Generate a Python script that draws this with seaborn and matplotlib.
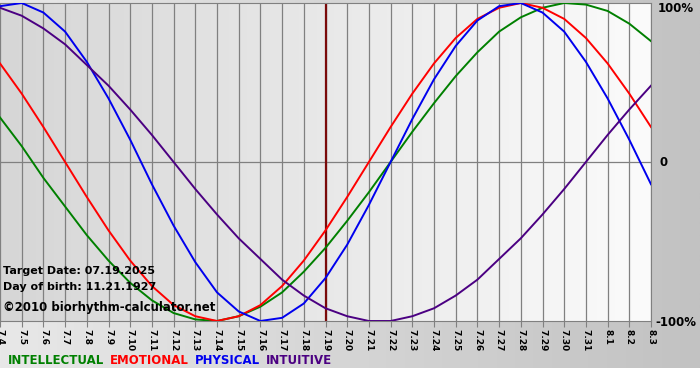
import numpy as np
import pandas as pd
import matplotlib
matplotlib.use('Agg')
from matplotlib import pyplot as plt
from matplotlib.colors import LinearSegmentedColormap
import seaborn as sns

# etiquetas de los dias (7.4 -> 8.3)
dias = ['7.4', '7.5', '7.6', '7.7', '7.8', '7.9', '7.10', '7.11', '7.12', '7.13',
        '7.14', '7.15', '7.16', '7.17', '7.18', '7.19', '7.20', '7.21', '7.22', '7.23',
        '7.24', '7.25', '7.26', '7.27', '7.28', '7.29', '7.30', '7.31', '8.1', '8.2', '8.3']

# valores (fraccion de 100%)
intelectual = [0.28, 0.10, -0.10, -0.28, -0.46, -0.62, -0.76, -0.87, -0.95, -0.99,
               -1.00, -0.97, -0.91, -0.82, -0.69, -0.54, -0.37, -0.19, 0.00, 0.19,
               0.37, 0.54, 0.69, 0.82, 0.91, 0.97, 1.00, 0.99, 0.95, 0.87, 0.76]
emocional = [0.62, 0.43, 0.22, 0.00, -0.22, -0.43, -0.62, -0.78, -0.90, -0.97,
             -1.00, -0.97, -0.90, -0.78, -0.62, -0.43, -0.22, 0.00, 0.22, 0.43,
             0.62, 0.78, 0.90, 0.97, 1.00, 0.97, 0.90, 0.78, 0.62, 0.43, 0.22]
fisico = [0.98, 1.00, 0.94, 0.82, 0.63, 0.40, 0.14, -0.14, -0.40, -0.63,
          -0.82, -0.94, -1.00, -0.98, -0.89, -0.73, -0.52, -0.27, 0.00, 0.27,
          0.52, 0.73, 0.89, 0.98, 1.00, 0.94, 0.82, 0.63, 0.40, 0.14, -0.14]
intuitivo = [0.97, 0.92, 0.84, 0.74, 0.61, 0.48, 0.33, 0.17, 0.00, -0.17,
             -0.33, -0.48, -0.61, -0.74, -0.84, -0.92, -0.97, -1.00, -1.00, -0.97,
             -0.92, -0.84, -0.74, -0.61, -0.48, -0.33, -0.17, 0.00, 0.17, 0.33, 0.48]

series = ['INTELLECTUAL', 'EMOTIONAL', 'PHYSICAL', 'INTUITIVE']
colores = {'INTELLECTUAL': '#008000', 'EMOTIONAL': '#ff0000',
           'PHYSICAL': '#0000ee', 'INTUITIVE': '#4b0082'}
dia_objetivo = '7.19'
etiquetas_y = ['100%', '0', '-100%']

# se arma el DataFrame largo
dia_idx = list(range(len(dias)))
df = pd.concat([
    pd.DataFrame({'dia': dia_idx, 'valor': v, 'ciclo': s})
    for s, v in zip(series, [intelectual, emocional, fisico, intuitivo])
])

fig = plt.figure(figsize=(7, 3.8), dpi=100)
fig.patch.set_facecolor('white')

# fondo gris degradado de la figura
bg = fig.add_axes([0, 12 / 380, 1, 368 / 380], zorder=-10)
bg.imshow(np.linspace(0, 1, 256).reshape(1, -1), aspect='auto',
          cmap=LinearSegmentedColormap.from_list('bg', ['#e8e8e8', '#c2c2c2']),
          extent=[0, 1, 0, 1])
bg.axis('off')

ax = fig.add_axes([0, 1 - 321 / 380, 651 / 700, 318 / 380])
ax.patch.set_alpha(0)

# degradado del area del grafico
ax.imshow(np.linspace(0, 1, 256).reshape(1, -1), aspect='auto',
          cmap=LinearSegmentedColormap.from_list('pa', ['#d6d6d6', '#fbfbfb']),
          extent=[0, len(dias) - 1, -1, 1], zorder=0)

for i in dia_idx:
    ax.axvline(i, color='#808080', lw=0.9, zorder=1)
ax.axhline(0, color='#808080', lw=0.9, zorder=1)
ax.axvline(dias.index(dia_objetivo), color='#7a0a0a', lw=1.6, zorder=2)

sns.lineplot(data=df, x='dia', y='valor', hue='ciclo', palette=colores,
             linewidth=1.4, legend=False, ax=ax, zorder=3)
for ln in ax.get_lines():
    ln.set_solid_joinstyle('round')

ax.set_xlim(0, len(dias) - 1)
ax.set_ylim(-1, 1)
ax.set_xlabel('')
ax.set_ylabel('')
ax.set_xticks(dia_idx)
ax.set_xticklabels(dias, rotation=270, fontsize=6.5, fontweight='bold')
ax.tick_params(axis='x', length=4, color='#808080', pad=2)
ax.set_yticks([])
for lado in ['top', 'bottom', 'right']:
    ax.spines[lado].set_color('#808080')
ax.spines['left'].set_visible(False)

# etiquetas del eje y a la derecha
for lbl, ypix, xpix in zip(etiquetas_y, [8, 162, 322], [658, 660, 655]):
    fig.text(xpix / 700, 1 - ypix / 380, lbl, fontsize=8.5, fontweight='bold',
             va='center', ha='left')

# textos informativos
fig.text(3 / 700, 1 - 271 / 380, 'Target Date: 07.19.2025', fontsize=8,
         fontweight='bold', va='center')
fig.text(3 / 700, 1 - 287 / 380, 'Day of birth: 11.21.1927', fontsize=8,
         fontweight='bold', va='center')
fig.text(3 / 700, 1 - 307 / 380, '\u00a92010 biorhythm-calculator.net', fontsize=8.5,
         fontweight='bold', va='center')

# leyenda con palabras de color
x = 8 / 700
for s in series:
    t = fig.text(x, 1 - 361 / 380, s, color=colores[s], fontsize=8.5,
                 fontweight='bold', va='center')
    fig.canvas.draw()
    bb = t.get_window_extent()
    x += (bb.width + 6) / 700

plt.savefig('out.png', dpi=100)
